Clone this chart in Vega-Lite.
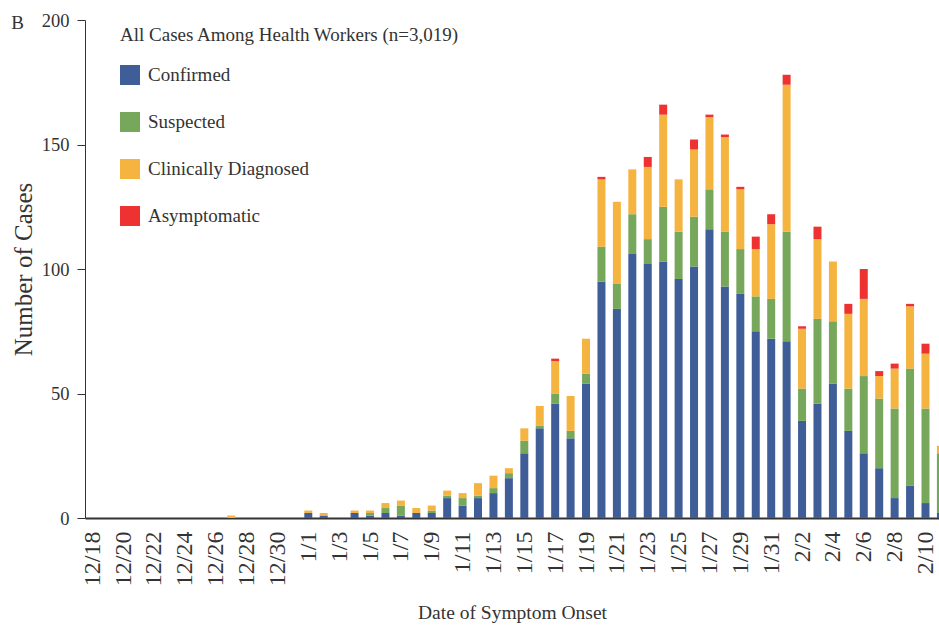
{
  "$schema": "https://vega.github.io/schema/vega-lite/v6.json",
  "autosize": {"type": "none"},
  "padding": {"left": 85, "top": 20, "right": 0, "bottom": 109},
  "width": 854,
  "height": 498,
  "background": "white",
  "config": {
    "view": {"stroke": null},
    "font": "Liberation Serif"
  },
  "title": {
    "text": "B",
    "anchor": "start",
    "frame": "bounds",
    "orient": "top",
    "font": "Liberation Serif",
    "fontSize": 19,
    "fontWeight": "normal",
    "color": "#333333",
    "offset": 0,
    "dx": 0,
    "dy": 22
  },
  "data": {
    "values": [
      {"date": "2019-12-27", "Confirmed": 0, "Suspected": 0, "Clinically Diagnosed": 1, "Asymptomatic": 0},
      {"date": "2020-01-01", "Confirmed": 2, "Suspected": 0, "Clinically Diagnosed": 1, "Asymptomatic": 0},
      {"date": "2020-01-02", "Confirmed": 1, "Suspected": 0, "Clinically Diagnosed": 1, "Asymptomatic": 0},
      {"date": "2020-01-04", "Confirmed": 2, "Suspected": 0, "Clinically Diagnosed": 1, "Asymptomatic": 0},
      {"date": "2020-01-05", "Confirmed": 1, "Suspected": 1, "Clinically Diagnosed": 1, "Asymptomatic": 0},
      {"date": "2020-01-06", "Confirmed": 2, "Suspected": 2, "Clinically Diagnosed": 2, "Asymptomatic": 0},
      {"date": "2020-01-07", "Confirmed": 1, "Suspected": 4, "Clinically Diagnosed": 2, "Asymptomatic": 0},
      {"date": "2020-01-08", "Confirmed": 2, "Suspected": 0, "Clinically Diagnosed": 2, "Asymptomatic": 0},
      {"date": "2020-01-09", "Confirmed": 2, "Suspected": 1, "Clinically Diagnosed": 2, "Asymptomatic": 0},
      {"date": "2020-01-10", "Confirmed": 8, "Suspected": 1, "Clinically Diagnosed": 2, "Asymptomatic": 0},
      {"date": "2020-01-11", "Confirmed": 5, "Suspected": 3, "Clinically Diagnosed": 2, "Asymptomatic": 0},
      {"date": "2020-01-12", "Confirmed": 8, "Suspected": 1, "Clinically Diagnosed": 5, "Asymptomatic": 0},
      {"date": "2020-01-13", "Confirmed": 10, "Suspected": 2, "Clinically Diagnosed": 5, "Asymptomatic": 0},
      {"date": "2020-01-14", "Confirmed": 16, "Suspected": 2, "Clinically Diagnosed": 2, "Asymptomatic": 0},
      {"date": "2020-01-15", "Confirmed": 26, "Suspected": 5, "Clinically Diagnosed": 5, "Asymptomatic": 0},
      {"date": "2020-01-16", "Confirmed": 36, "Suspected": 1, "Clinically Diagnosed": 8, "Asymptomatic": 0},
      {"date": "2020-01-17", "Confirmed": 46, "Suspected": 4, "Clinically Diagnosed": 13, "Asymptomatic": 1},
      {"date": "2020-01-18", "Confirmed": 32, "Suspected": 3, "Clinically Diagnosed": 14, "Asymptomatic": 0},
      {"date": "2020-01-19", "Confirmed": 54, "Suspected": 4, "Clinically Diagnosed": 14, "Asymptomatic": 0},
      {"date": "2020-01-20", "Confirmed": 95, "Suspected": 14, "Clinically Diagnosed": 27, "Asymptomatic": 1},
      {"date": "2020-01-21", "Confirmed": 84, "Suspected": 10, "Clinically Diagnosed": 33, "Asymptomatic": 0},
      {"date": "2020-01-22", "Confirmed": 106, "Suspected": 16, "Clinically Diagnosed": 18, "Asymptomatic": 0},
      {"date": "2020-01-23", "Confirmed": 102, "Suspected": 10, "Clinically Diagnosed": 29, "Asymptomatic": 4},
      {"date": "2020-01-24", "Confirmed": 103, "Suspected": 22, "Clinically Diagnosed": 37, "Asymptomatic": 4},
      {"date": "2020-01-25", "Confirmed": 96, "Suspected": 19, "Clinically Diagnosed": 21, "Asymptomatic": 0},
      {"date": "2020-01-26", "Confirmed": 101, "Suspected": 20, "Clinically Diagnosed": 27, "Asymptomatic": 4},
      {"date": "2020-01-27", "Confirmed": 116, "Suspected": 16, "Clinically Diagnosed": 29, "Asymptomatic": 1},
      {"date": "2020-01-28", "Confirmed": 93, "Suspected": 22, "Clinically Diagnosed": 38, "Asymptomatic": 1},
      {"date": "2020-01-29", "Confirmed": 90, "Suspected": 18, "Clinically Diagnosed": 24, "Asymptomatic": 1},
      {"date": "2020-01-30", "Confirmed": 75, "Suspected": 14, "Clinically Diagnosed": 19, "Asymptomatic": 5},
      {"date": "2020-01-31", "Confirmed": 72, "Suspected": 16, "Clinically Diagnosed": 30, "Asymptomatic": 4},
      {"date": "2020-02-01", "Confirmed": 71, "Suspected": 44, "Clinically Diagnosed": 59, "Asymptomatic": 4},
      {"date": "2020-02-02", "Confirmed": 39, "Suspected": 13, "Clinically Diagnosed": 24, "Asymptomatic": 1},
      {"date": "2020-02-03", "Confirmed": 46, "Suspected": 34, "Clinically Diagnosed": 32, "Asymptomatic": 5},
      {"date": "2020-02-04", "Confirmed": 54, "Suspected": 25, "Clinically Diagnosed": 24, "Asymptomatic": 0},
      {"date": "2020-02-05", "Confirmed": 35, "Suspected": 17, "Clinically Diagnosed": 30, "Asymptomatic": 4},
      {"date": "2020-02-06", "Confirmed": 26, "Suspected": 31, "Clinically Diagnosed": 31, "Asymptomatic": 12},
      {"date": "2020-02-07", "Confirmed": 20, "Suspected": 28, "Clinically Diagnosed": 9, "Asymptomatic": 2},
      {"date": "2020-02-08", "Confirmed": 8, "Suspected": 36, "Clinically Diagnosed": 16, "Asymptomatic": 2},
      {"date": "2020-02-09", "Confirmed": 13, "Suspected": 47, "Clinically Diagnosed": 25, "Asymptomatic": 1},
      {"date": "2020-02-10", "Confirmed": 6, "Suspected": 38, "Clinically Diagnosed": 22, "Asymptomatic": 4},
      {"date": "2020-02-11", "Confirmed": 2, "Suspected": 24, "Clinically Diagnosed": 3, "Asymptomatic": 0}
    ]
  },
  "transform": [
    {"fold": ["Confirmed", "Suspected", "Clinically Diagnosed", "Asymptomatic"], "as": ["category", "cases"]},
    {
      "lookup": "category",
      "from": {
        "data": {
          "values": [
            {"category": "Confirmed", "rank": 1},
            {"category": "Suspected", "rank": 2},
            {"category": "Clinically Diagnosed", "rank": 3},
            {"category": "Asymptomatic", "rank": 4}
          ]
        },
        "key": "category",
        "fields": ["rank"]
      }
    }
  ],
  "mark": {"type": "bar", "width": 8, "clip": true},
  "encoding": {
    "x": {
      "field": "date",
      "type": "temporal",
      "scale": {
        "type": "utc",
        "nice": false,
        "padding": 0,
        "domain": [
          {"year": 2019, "month": 12, "date": 17, "hours": 12, "minutes": 41, "utc": true},
          {"year": 2020, "month": 2, "date": 10, "hours": 21, "minutes": 1, "utc": true}
        ]
      },
      "axis": {
        "values": [
          {"year": 2019, "month": 12, "date": 18, "utc": true},
          {"year": 2019, "month": 12, "date": 20, "utc": true},
          {"year": 2019, "month": 12, "date": 22, "utc": true},
          {"year": 2019, "month": 12, "date": 24, "utc": true},
          {"year": 2019, "month": 12, "date": 26, "utc": true},
          {"year": 2019, "month": 12, "date": 28, "utc": true},
          {"year": 2019, "month": 12, "date": 30, "utc": true},
          {"year": 2020, "month": 1, "date": 1, "utc": true},
          {"year": 2020, "month": 1, "date": 3, "utc": true},
          {"year": 2020, "month": 1, "date": 5, "utc": true},
          {"year": 2020, "month": 1, "date": 7, "utc": true},
          {"year": 2020, "month": 1, "date": 9, "utc": true},
          {"year": 2020, "month": 1, "date": 11, "utc": true},
          {"year": 2020, "month": 1, "date": 13, "utc": true},
          {"year": 2020, "month": 1, "date": 15, "utc": true},
          {"year": 2020, "month": 1, "date": 17, "utc": true},
          {"year": 2020, "month": 1, "date": 19, "utc": true},
          {"year": 2020, "month": 1, "date": 21, "utc": true},
          {"year": 2020, "month": 1, "date": 23, "utc": true},
          {"year": 2020, "month": 1, "date": 25, "utc": true},
          {"year": 2020, "month": 1, "date": 27, "utc": true},
          {"year": 2020, "month": 1, "date": 29, "utc": true},
          {"year": 2020, "month": 1, "date": 31, "utc": true},
          {"year": 2020, "month": 2, "date": 2, "utc": true},
          {"year": 2020, "month": 2, "date": 4, "utc": true},
          {"year": 2020, "month": 2, "date": 6, "utc": true},
          {"year": 2020, "month": 2, "date": 8, "utc": true},
          {"year": 2020, "month": 2, "date": 10, "utc": true}
        ],
        "format": "%-m/%-d",
        "labelAngle": 270,
        "labelOverlap": false,
        "labelFlush": false,
        "labelBound": false,
        "ticks": false,
        "grid": false,
        "labelPadding": 13,
        "labelFont": "Liberation Serif",
        "labelFontSize": 24,
        "labelColor": "#333333",
        "domainColor": "#333333",
        "domainWidth": 2,
        "title": "Date of Symptom Onset",
        "titleFont": "Liberation Serif",
        "titleFontSize": 19.5,
        "titleFontWeight": "normal",
        "titleColor": "#333333",
        "titlePadding": 18
      }
    },
    "y": {
      "field": "cases",
      "type": "quantitative",
      "stack": "zero",
      "scale": {"domain": [0, 200], "nice": false},
      "axis": {
        "values": [0, 50, 100, 150, 200],
        "grid": false,
        "tickSize": 8,
        "tickColor": "#333333",
        "domainColor": "#333333",
        "labelPadding": 8,
        "labelFont": "Liberation Serif",
        "labelFontSize": 18.5,
        "labelColor": "#333333",
        "title": "Number of Cases",
        "titleFont": "Liberation Serif",
        "titleFontSize": 25,
        "titleFontWeight": "normal",
        "titleColor": "#333333",
        "titlePadding": 5
      }
    },
    "order": {"field": "rank", "type": "quantitative", "sort": "ascending"},
    "color": {
      "field": "category",
      "type": "nominal",
      "sort": ["Confirmed", "Suspected", "Clinically Diagnosed", "Asymptomatic"],
      "scale": {
        "domain": ["Confirmed", "Suspected", "Clinically Diagnosed", "Asymptomatic"],
        "range": ["#3F5E98", "#77A75A", "#F5B340", "#EE3131"]
      },
      "legend": {
        "title": "All Cases Among Health Workers (n=3,019)",
        "orient": "none",
        "legendX": 35,
        "legendY": 6,
        "padding": 0,
        "symbolType": "square",
        "symbolSize": 400,
        "symbolStrokeWidth": 0,
        "symbolOpacity": 1,
        "rowPadding": 27,
        "labelOffset": 8,
        "titlePadding": 20,
        "titleFont": "Liberation Serif",
        "titleFontSize": 19,
        "titleFontWeight": "normal",
        "titleColor": "#333333",
        "titleLimit": 600,
        "labelFont": "Liberation Serif",
        "labelFontSize": 19,
        "labelColor": "#333333",
        "labelLimit": 400
      }
    }
  }
}
